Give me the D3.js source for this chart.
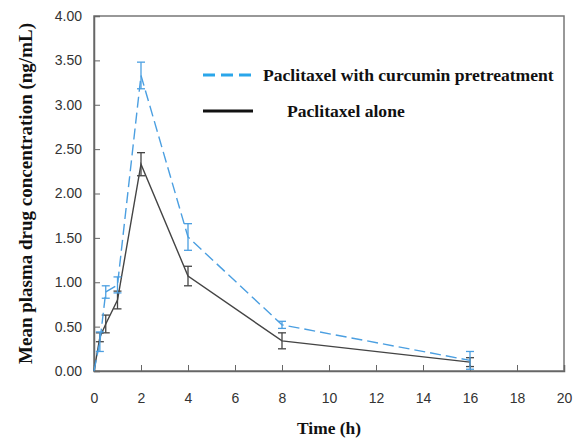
<!DOCTYPE html>
<html>
<head>
<meta charset="utf-8">
<script src="https://cdn.jsdelivr.net/npm/d3@7"></script>
<style>
body { margin: 0; background: #fff; }
.tick text { font-family: "Liberation Sans", Arial, sans-serif; font-size: 14px; fill: #333; }
.title { font-family: "Liberation Serif", "Times New Roman", serif; font-weight: bold; fill: #111; }
</style>
</head>
<body>
<div id="chart"></div>
<script>
var times = [0, 0.25, 0.5, 1, 2, 4, 8, 16];
var withCurcumin = [0, 0.33, 0.89, 0.97, 3.33, 1.51, 0.52, 0.12];
var withCurcuminErr = [0, 0.11, 0.07, 0.09, 0.15, 0.15, 0.04, 0.10];
var alone = [0, 0.38, 0.53, 0.80, 2.33, 1.07, 0.34, 0.10];
var aloneErr = [0, 0.05, 0.10, 0.10, 0.13, 0.11, 0.09, 0.05];
var xTicks = [0, 2, 4, 6, 8, 10, 12, 14, 16, 18, 20];
var yTicks = [0, 0.5, 1, 1.5, 2, 2.5, 3, 3.5, 4];

var width = 576, height = 441;
var margin = {left: 94, right: 12, top: 16, bottom: 70};

var svg = d3.select('#chart')
            .append('svg')
            .attr('width', width)
            .attr('height', height)

var x = d3.scaleLinear().domain([0, 20]).range([margin.left, width - margin.right]);
var y = d3.scaleLinear().domain([0, 4]).range([height - margin.bottom, margin.top]);

// frame
svg.append('rect')
    .attr('x', x(0)).attr('y', y(4))
    .attr('width', x(20) - x(0)).attr('height', y(0) - y(4))
    .attr('fill', 'none').attr('stroke', '#777').attr('stroke-width', 1.5)

var xAxis = svg.append('g')
    .attr('transform', `translate(0,${y(0)})`)
    .call(d3.axisBottom(x).tickValues(xTicks).tickSize(-6).tickPadding(22).tickFormat(d3.format('d')))
xAxis.select('.domain').attr('stroke', '#666').attr('stroke-width', 1.5)
xAxis.selectAll('.tick line').attr('stroke', '#666')

var yAxis = svg.append('g')
    .attr('transform', `translate(${x(0)},0)`)
    .call(d3.axisLeft(y).tickValues(yTicks).tickSize(-6).tickPadding(12).tickFormat(d3.format('.2f')))
yAxis.select('.domain').attr('stroke', '#666').attr('stroke-width', 1.5)
yAxis.selectAll('.tick line').attr('stroke', '#666')

function drawSeries(vals, errs, color, dash) {
    var pts = times.map(function (t, i) { return {t: t, v: vals[i], e: errs[i]}; });
    var line = d3.line().x(function (d) { return x(d.t); }).y(function (d) { return y(d.v); });
    svg.append('path')
        .datum(pts)
        .attr('d', line)
        .attr('fill', 'none')
        .attr('stroke', color)
        .attr('stroke-width', 1.4)
        .attr('stroke-dasharray', dash)
    var eb = svg.append('g').attr('stroke', color).attr('stroke-width', 1.3)
    pts.filter(function (d) { return d.e > 0; }).forEach(function (d) {
        var lo = Math.max(0, d.v - d.e), hi = d.v + d.e;
        eb.append('line').attr('x1', x(d.t)).attr('x2', x(d.t)).attr('y1', y(lo)).attr('y2', y(hi))
        eb.append('line').attr('x1', x(d.t) - 4).attr('x2', x(d.t) + 4).attr('y1', y(lo)).attr('y2', y(lo))
        eb.append('line').attr('x1', x(d.t) - 4).attr('x2', x(d.t) + 4).attr('y1', y(hi)).attr('y2', y(hi))
    });
}

drawSeries(alone, aloneErr, '#444', null)
drawSeries(withCurcumin, withCurcuminErr, '#4b9fe1', '11,5')

// legend
var legend = svg.append('g')
legend.append('line')
    .attr('x1', 203).attr('x2', 252).attr('y1', 75).attr('y2', 75)
    .attr('stroke', '#2aa6ea').attr('stroke-width', 3).attr('stroke-dasharray', '12,6')
legend.append('text')
    .attr('class', 'title')
    .attr('x', 263).attr('y', 81)
    .style('font-size', '17.6px')
    .text('Paclitaxel with curcumin pretreatment')
legend.append('line')
    .attr('x1', 203).attr('x2', 253).attr('y1', 111).attr('y2', 111)
    .attr('stroke', '#111').attr('stroke-width', 3)
legend.append('text')
    .attr('class', 'title')
    .attr('x', 287).attr('y', 117)
    .style('font-size', '17.6px')
    .text('Paclitaxel alone')

// axis titles
svg.append('text')
    .attr('class', 'title')
    .attr('text-anchor', 'middle')
    .attr('x', (x(0) + x(20)) / 2).attr('y', 434)
    .style('font-size', '17.4px')
    .text('Time (h)')

svg.append('text')
    .attr('class', 'title')
    .attr('text-anchor', 'middle')
    .attr('transform', `translate(32,${(y(0) + y(4)) / 2})rotate(-90)`)
    .style('font-size', '19px')
    .text('Mean plasma drug concentration (ng/mL)')
</script>
</body>
</html>
